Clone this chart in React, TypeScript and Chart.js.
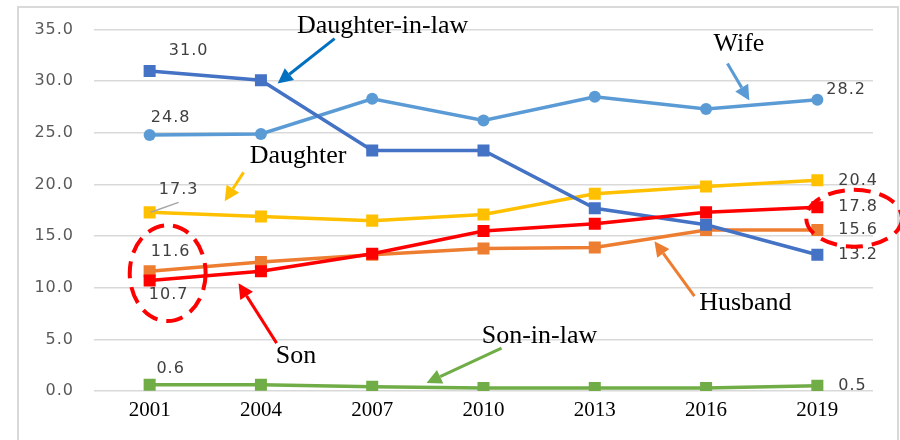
import React, { useEffect, useRef } from "react";
import { Chart, registerables } from "chart.js";

Chart.register(...registerables);

const years = ["2001", "2004", "2007", "2010", "2013", "2016", "2019"];
const daughterInLaw = [31.0, 30.1, 23.3, 23.3, 17.7, 16.1, 13.2];
const wife = [24.8, 24.9, 28.3, 26.2, 28.5, 27.3, 28.2];
const daughter = [17.3, 16.9, 16.5, 17.1, 19.1, 19.8, 20.4];
const son = [10.7, 11.6, 13.3, 15.5, 16.2, 17.3, 17.8];
const husband = [11.6, 12.5, 13.2, 13.8, 13.9, 15.6, 15.6];
const sonInLaw = [0.6, 0.6, 0.4, 0.3, 0.3, 0.3, 0.5];
const yTicks = [0, 5, 10, 15, 20, 25, 30, 35];

const SERIF = "'Liberation Serif', 'Times New Roman', serif";
const SANS = "'DejaVu Sans', Verdana, sans-serif";

// label offsets (px) relative to the first / last point of each series
const labelOffsets: Record<string, { first: [number, number]; last: [number, number] }> = {
  "Daughter-in-law": { first: [39, -20], last: [21, 0] },
  Wife: { first: [21, -17], last: [9, -10] },
  Daughter: { first: [29, -23], last: [21, 0] },
  Son: { first: [19, 14], last: [21, 0] },
  Husband: { first: [21, -19], last: [21, 0] },
  "Son-in-law": { first: [21, -16], last: [21, 0] },
};

const setSpacing = (ctx: any, v: string) => {
  try { ctx.letterSpacing = v; } catch (e) {}
};

const annotationPlugin = {
  id: "annotations",
  beforeDraw(chart: any) {
    const ctx = chart.ctx;
    ctx.save();
    ctx.fillStyle = "#ffffff";
    ctx.fillRect(0, 0, chart.width, chart.height);
    ctx.strokeStyle = "#D9D9D9";
    ctx.lineWidth = 2;
    ctx.strokeRect(18, 7, 880, 460);
    ctx.restore();
    // y tick labels are drawn next with a little tracking
    setSpacing(ctx, "1px");
  },
  beforeDatasetsDraw(chart: any) {
    setSpacing(chart.ctx, "0px");
  },
  afterDraw(chart: any) {
    const ctx = chart.ctx;
    const xs = chart.scales.x;
    const ys = chart.scales.y;
    const X = (i: number) => xs.getPixelForValue(i);
    const Y = (v: number) => ys.getPixelForValue(v);

    // data labels for first and last points
    ctx.save();
    ctx.font = `16px ${SANS}`;
    ctx.fillStyle = "#404040";
    ctx.textBaseline = "middle";
    setSpacing(ctx, "1px");
    chart.data.datasets.forEach((ds: any) => {
      const off = labelOffsets[ds.label];
      const d = ds.data;
      const n = d.length - 1;
      ctx.textAlign = "center";
      ctx.fillText(d[0].toFixed(1), X(0) + off.first[0], Y(d[0]) + off.first[1]);
      ctx.textAlign = "left";
      ctx.fillText(d[n].toFixed(1), X(n) + off.last[0], Y(d[n]) + off.last[1]);
    });
    setSpacing(ctx, "0px");
    ctx.restore();

    // leader line for 17.3
    ctx.save();
    ctx.strokeStyle = "#A6A6A6";
    ctx.lineWidth = 1.5;
    ctx.beginPath();
    ctx.moveTo(X(0.01), Y(17.31));
    ctx.lineTo(X(0.26), Y(18.27));
    ctx.stroke();
    ctx.restore();

    const arrow = (i1: number, v1: number, i2: number, v2: number, color: string) => {
      const x1 = X(i1), y1 = Y(v1), x2 = X(i2), y2 = Y(v2);
      const a = Math.atan2(y2 - y1, x2 - x1);
      const hl = 15, hw = 7.5;
      const bx = x2 - hl * Math.cos(a), by = y2 - hl * Math.sin(a);
      ctx.save();
      ctx.strokeStyle = color;
      ctx.fillStyle = color;
      ctx.lineWidth = 3;
      ctx.beginPath();
      ctx.moveTo(x1, y1);
      ctx.lineTo(bx, by);
      ctx.stroke();
      ctx.beginPath();
      ctx.moveTo(x2, y2);
      ctx.lineTo(bx + hw * Math.sin(a), by - hw * Math.cos(a));
      ctx.lineTo(bx - hw * Math.sin(a), by + hw * Math.cos(a));
      ctx.closePath();
      ctx.fill();
      ctx.restore();
    };
    arrow(1.662, 34.13, 1.15, 29.78, "#0070C0");
    arrow(5.192, 31.71, 5.389, 28.13, "#5B9BD5");
    arrow(0.844, 21.17, 0.674, 18.37, "#FFC000");
    arrow(1.141, 4.64, 0.799, 10.44, "#FF0000");
    arrow(3.162, 4.16, 2.488, 0.77, "#70AD47");
    arrow(4.895, 9.18, 4.536, 14.5, "#ED7D31");

    const text = (t: string, i: number, v: number) => {
      ctx.save();
      ctx.font = `26px ${SERIF}`;
      ctx.fillStyle = "#000000";
      ctx.textAlign = "center";
      ctx.textBaseline = "alphabetic";
      ctx.fillText(t, X(i), Y(v));
      ctx.restore();
    };
    text("Daughter-in-law", 2.093, 34.71);
    text("Wife", 5.295, 32.97);
    text("Daughter", 1.334, 22.07);
    text("Son", 1.316, 2.67);
    text("Son-in-law", 3.503, 4.67);
    text("Husband", 5.353, 7.83);

    const ellipse = (i: number, v: number, ri: number, rv: number) => {
      const cx = X(i), cy = Y(v);
      const rx = Math.abs(X(i + ri) - cx), ry = Math.abs(Y(v + rv) - cy);
      ctx.save();
      ctx.strokeStyle = "#FF0000";
      ctx.lineWidth = 4;
      ctx.setLineDash([17, 9]);
      ctx.beginPath();
      ctx.ellipse(cx, cy, rx, ry, 0, 0, Math.PI * 2);
      ctx.stroke();
      ctx.restore();
    };
    ellipse(0.162, 11.41, 0.341, 4.64);
    ellipse(6.33, 16.73, 0.43, 2.75);
  },
};

export default function App() {
  const ref = useRef<HTMLCanvasElement | null>(null);
  useEffect(() => {
    if (!ref.current) return;
    const mk = (label: string, data: number[], color: string, style: string, r: number) => ({
      label,
      data,
      borderColor: color,
      backgroundColor: color,
      borderWidth: 3.5,
      pointStyle: style,
      pointRadius: r,
      pointHoverRadius: r,
      pointBorderWidth: 0,
      tension: 0,
    });
    const chart = new Chart(ref.current, {
      type: "line",
      data: {
        labels: years,
        datasets: [
          mk("Son-in-law", sonInLaw, "#70AD47", "rect", 8.5),
          mk("Son", son, "#FF0000", "rect", 8.5),
          mk("Daughter-in-law", daughterInLaw, "#4472C4", "rect", 8.5),
          mk("Daughter", daughter, "#FFC000", "rect", 8.5),
          mk("Wife", wife, "#5B9BD5", "circle", 6),
          mk("Husband", husband, "#ED7D31", "rect", 8.5),
        ],
      },
      options: {
        animation: false,
        responsive: false,
        devicePixelRatio: 1,
        layout: { padding: { top: 29, right: 27, bottom: 0, left: 0 } },
        plugins: { legend: { display: false }, tooltip: { enabled: false } },
        scales: {
          x: {
            offset: true,
            grid: { display: false, drawTicks: false },
            border: { display: false },
            ticks: { color: "#000000", font: { family: SERIF, size: 21 }, padding: 7, z: 1 },
            afterFit: (s: any) => { s.height = 49; },
          },
          y: {
            min: 0,
            max: 35,
            afterBuildTicks: (s: any) => { s.ticks = yTicks.map((v) => ({ value: v })); },
            grid: { color: "#D9D9D9", lineWidth: 1.5, drawTicks: false },
            border: { display: false },
            ticks: {
              color: "#595959",
              font: { family: SANS, size: 16 },
              padding: 20,
              callback: (v: any) => Number(v).toFixed(1),
            },
            afterFit: (s: any) => { s.width = 94; },
          },
        },
      },
      plugins: [annotationPlugin],
    } as any);
    return () => chart.destroy();
  }, []);
  return (
    <div style={{ position: "absolute", left: 0, top: 0, width: 900, height: 440 }}>
      <canvas ref={ref} width={900} height={440} />
    </div>
  );
}
